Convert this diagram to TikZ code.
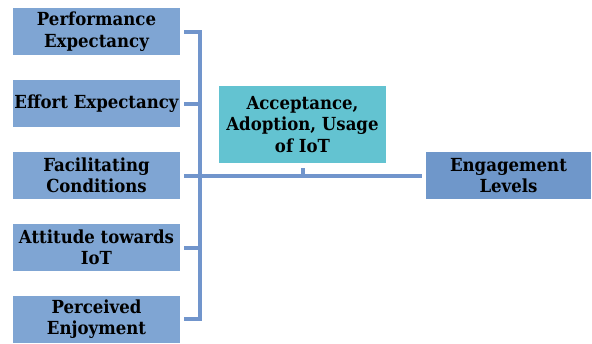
\documentclass[tikz,border=0pt]{standalone}
\usepackage{fontspec}
\setmainfont[FakeStretch=0.92]{DejaVu Serif}
\definecolor{boxblue}{RGB}{127,165,211}
\definecolor{engblue}{RGB}{111,151,202}
\definecolor{teal}{RGB}{99,195,209}
\definecolor{linec}{RGB}{113,149,204}
\begin{document}
\begin{tikzpicture}[x=1pt,y=-1pt,
  base/.style={inner sep=0pt,align=center,font=\bfseries\fontsize{18}{21.5}\selectfont,text=black},
  leftbox/.style={base,fill=boxblue,minimum width=167pt,minimum height=47pt},
  midbox/.style={base,fill=teal,minimum width=167pt,minimum height=77pt},
  engbox/.style={base,fill=engblue,minimum width=165pt,minimum height=47pt},
  conn/.style={draw=linec,line width=4pt}]
\useasboundingbox (0,0) rectangle (592,343);
\node[leftbox] (p1) at (96.5,31.5) {Performance\\Expectancy};
\node[leftbox] (p2) at (96.5,103.5) {Effort Expectancy};
\node[leftbox] (p3) at (96.5,175.5) {Facilitating\\Conditions};
\node[leftbox] (p4) at (96.5,247.5) {Attitude towards\\IoT};
\node[leftbox] (p5) at (96.5,319) {Perceived\\Enjoyment};
\node[midbox] (acc) at (302.5,124.5) {Acceptance,\\Adoption, Usage\\of IoT};
\node[engbox] (eng) at (508.5,175.5) {Engagement\\Levels};
\coordinate (bx) at (200,0);
\foreach \n in {p1,p2,p4,p5}{
  \draw[conn] ([xshift=4pt]\n.east) -- (\n.east -| bx);
}
\draw[conn,line cap=rect] (p1.east -| bx) -- (p5.east -| bx);
\draw[conn] ([xshift=4pt]p3.east) -- ([xshift=-4pt]eng.west);
\draw[conn] ([yshift=-5pt]acc.south) -- (acc.south |- p3.east);
\end{tikzpicture}
\end{document}
